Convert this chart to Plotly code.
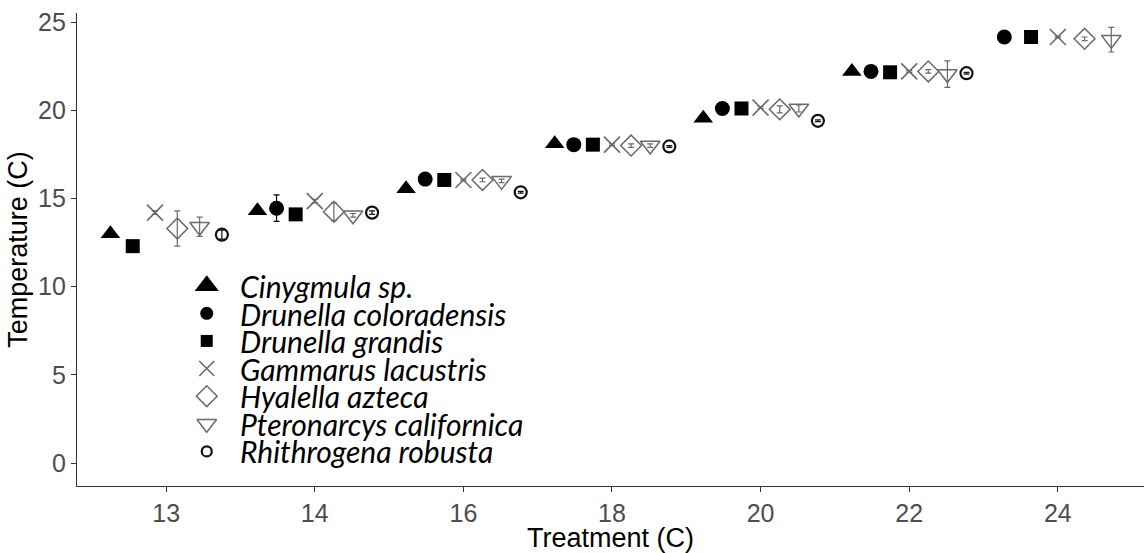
import plotly.graph_objects as go

# ---------------- data ----------------
treatments = ["13", "14", "16", "18", "20", "22", "24"]
species = ["Cinygmula sp.", "Drunella coloradensis", "Drunella grandis",
           "Gammarus lacustris", "Hyalella azteca", "Pteronarcys californica",
           "Rhithrogena robusta"]

# mean temperature (C) per treatment; None = species not tested at that treatment
cinygmula = [13.0, 14.3, 15.55, 18.1, 19.55, 22.2, None]
d_coloradensis = [None, 14.45, 16.1, 18.05, 20.1, 22.2, 24.15]
d_grandis = [12.3, 14.1, 16.05, 18.05, 20.1, 22.15, 24.15]
g_lacustris = [14.2, 14.85, 16.05, 18.05, 20.15, 22.2, 24.15]
h_azteca = [13.3, 14.25, 16.05, 18.0, 20.05, 22.2, 24.05]
p_californica = [13.4, 14.05, 16.0, 18.0, 20.1, 22.05, 24.0]
r_robusta = [12.95, 14.2, 15.35, 17.95, 19.4, 22.1, None]

# standard errors
cinygmula_se = [0.1, 0.1, 0.1, 0.05, 0.1, 0.05, None]
d_coloradensis_se = [None, 0.75, 0.1, 0.05, 0.05, 0.05, 0.05]
d_grandis_se = [0.1, 0.1, 0.05, 0.05, 0.05, 0.05, 0.05]
g_lacustris_se = [0.1, 0.1, 0.05, 0.05, 0.05, 0.05, 0.05]
h_azteca_se = [1.0, 0.5, 0.1, 0.1, 0.2, 0.1, 0.1]
p_californica_se = [0.55, 0.1, 0.1, 0.1, 0.2, 0.75, 0.7]
r_robusta_se = [0.25, 0.1, 0.05, 0.05, 0.05, 0.05, None]

means = [cinygmula, d_coloradensis, d_grandis, g_lacustris, h_azteca, p_californica, r_robusta]
ses = [cinygmula_se, d_coloradensis_se, d_grandis_se, g_lacustris_se, h_azteca_se,
       p_californica_se, r_robusta_se]

# ---------------- styles ----------------
GRAY = "#6a6a6a"
styles = [
    dict(symbol="triangle-up", size=17, color="black", line=dict(width=0, color="black")),
    dict(symbol="circle", size=15, color="black", line=dict(width=0, color="black")),
    dict(symbol="square", size=14, color="black", line=dict(width=0, color="black")),
    dict(symbol="x-thin", size=16, color=GRAY, line=dict(width=1.6, color=GRAY)),
    dict(symbol="diamond-open", size=16, color=GRAY, line=dict(width=1.5, color=GRAY)),
    dict(symbol="triangle-down-open", size=17, color=GRAY, line=dict(width=1.5, color=GRAY)),
    dict(symbol="circle-open", size=12, color="#111111", line=dict(width=2.2, color="#111111")),
]
err_colors = ["black", "black", "black", GRAY, GRAY, GRAY, "#111111"]

DODGE = 0.9

fig = go.Figure()

# dodge positions: per treatment, spread the species present across the dodge width
present = []
for t in range(len(treatments)):
    present.append([s for s in range(len(species)) if means[s][t] is not None])

for s, name in enumerate(species):
    xs, ys, es = [], [], []
    for t in range(len(treatments)):
        if means[s][t] is None:
            continue
        grp = present[t]
        n = len(grp)
        idx = grp.index(s)
        xs.append(t + 1 + DODGE * ((idx + 0.5) / n - 0.5))
        ys.append(means[s][t])
        es.append(ses[s][t])
    st = styles[s]
    fig.add_trace(go.Scatter(
        x=xs, y=ys, mode="markers", name=name, showlegend=False,
        marker=dict(symbol=st["symbol"], size=st["size"], color=st["color"], line=st["line"]),
        error_y=dict(type="data", array=es, visible=True, color=err_colors[s],
                     thickness=1.2, width=3),
        cliponaxis=False,
    ))

# ---------------- in-plot key (drawn on an auxiliary 0..1 axis) ----------------
KEY_X = 0.1216
KEY_TOP = 0.4235
KEY_STEP = 0.0584
TEXT_X = 0.1505
key_sizes = [21, 13, 12, 15, 16, 17, 10]
for s, name in enumerate(species):
    st = styles[s]
    fig.add_trace(go.Scatter(
        x=[KEY_X], y=[KEY_TOP - s * KEY_STEP], mode="markers", showlegend=False,
        xaxis="x2", yaxis="y2", hoverinfo="skip",
        marker=dict(symbol=st["symbol"], size=key_sizes[s], color=st["color"], line=st["line"]),
    ))

# one multi-line text block: line pitch comes from the base font size (1.3 em),
# glyphs are drawn larger via an inline span
key_text = "<br>".join(
    '<span style="font-size:30px">' + name + "</span>" for name in species
)
fig.add_annotation(
    x=TEXT_X, y=KEY_TOP - 3 * KEY_STEP, xref="paper", yref="paper",
    text=key_text, showarrow=False, xanchor="left", yanchor="middle", align="left",
    font=dict(family="Lato", size=21.2, color="black", style="italic"),
)

fig.update_layout(
    width=1144, height=553,
    margin=dict(l=77, r=0, t=13, b=67),
    paper_bgcolor="white", plot_bgcolor="white",
    xaxis=dict(
        range=[0.4, 7.58], tickmode="array", tickvals=list(range(1, len(treatments) + 1)),
        ticktext=treatments, showgrid=False, zeroline=False,
        showline=True, linecolor="#333333", linewidth=1.4,
        ticks="outside", ticklen=5, tickcolor="#333333", tickwidth=1.2,
        tickfont=dict(family="Liberation Sans, Arial", size=25, color="#4D4D4D"),
        title=dict(text="Treatment (C)", standoff=0,
                   font=dict(family="Liberation Sans, Arial", size=27, color="black")),
        automargin=False,
    ),
    yaxis=dict(
        range=[-1.29, 25.51], tickvals=[0, 5, 10, 15, 20, 25], showgrid=False, zeroline=False,
        showline=True, linecolor="#333333", linewidth=1.4,
        ticks="outside", ticklen=5, tickcolor="#333333", tickwidth=1.2,
        tickfont=dict(family="Liberation Sans, Arial", size=25, color="#4D4D4D"),
        title=dict(text="Temperature (C)", standoff=2,
                   font=dict(family="Liberation Sans, Arial", size=27, color="black")),
        automargin=False,
    ),
    xaxis2=dict(range=[0, 1], domain=[0, 1], overlaying="x", visible=False, anchor="y2"),
    yaxis2=dict(range=[0, 1], domain=[0, 1], overlaying="y", visible=False, anchor="x2"),
)

fig.write_html("out.html")
